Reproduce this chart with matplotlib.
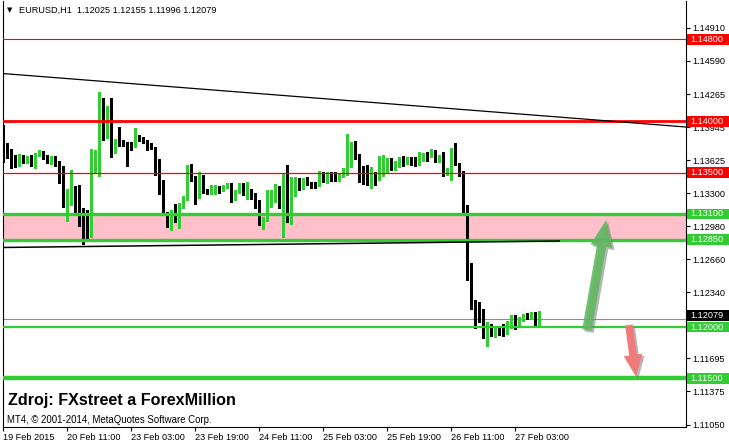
import matplotlib
matplotlib.use("Agg")
import matplotlib.pyplot as plt
from matplotlib.patches import Rectangle
import matplotlib.transforms as mtransforms
import matplotlib.patheffects as pe
import numpy as np

plt.rcParams['font.family'] = ['Liberation Sans', 'DejaVu Sans']

# ---------------- data ----------------
symbol = "EURUSD,H1"
header_ohlc = [1.12025, 1.12155, 1.11996, 1.12079]

opens = [1.1395, 1.1374, 1.1366, 1.1364, 1.1358, 1.1363, 1.1361, 1.1365, 1.1361, 1.1367,
         1.1370, 1.1365, 1.1361, 1.1363, 1.1360, 1.1355, 1.1329, 1.1328, 1.1335, 1.1323,
         1.1315, 1.1313, 1.1292, 1.1368, 1.1369, 1.1392, 1.1386, 1.1396, 1.1375, 1.1394,
         1.1379, 1.1379, 1.1379, 1.1376, 1.1386, 1.1384, 1.1381, 1.1378, 1.1374, 1.1357,
         1.1342, 1.1311, 1.1298, 1.1311, 1.1303, 1.1319, 1.1325, 1.1353, 1.1344, 1.1331,
         1.1347, 1.1332, 1.1331, 1.1332, 1.1336, 1.1333, 1.1336, 1.1339, 1.1325, 1.1332,
         1.1339, 1.1328, 1.1333, 1.1328, 1.1318, 1.1303, 1.1304, 1.1319, 1.1330, 1.1332,
         1.1311, 1.1337, 1.1304, 1.1335, 1.1337, 1.1336, 1.1342, 1.1340, 1.1340, 1.1338,
         1.1349, 1.1344, 1.1350, 1.1350, 1.1346, 1.1347, 1.1353, 1.1373, 1.1378, 1.1367,
         1.1348, 1.1342, 1.1340, 1.1349, 1.1348, 1.1356, 1.1361, 1.1362, 1.1355, 1.1357,
         1.1364, 1.1360, 1.1363, 1.1364, 1.1359, 1.1364, 1.1368, 1.1366, 1.1371, 1.1362,
         1.1366, 1.1350, 1.1352, 1.1372, 1.1359, 1.1349, 1.1318, 1.1258, 1.1225, 1.1212,
         1.1209, 1.1193, 1.1199, 1.1194, 1.1198, 1.1197, 1.1194, 1.1200, 1.1211, 1.1203,
         1.1207, 1.1213, 1.1209, 1.1214, 1.12025]
highs = [1.1397, 1.1379, 1.1373, 1.1367, 1.1368, 1.1367, 1.1366, 1.1367, 1.1369, 1.1372,
         1.1371, 1.1367, 1.1366, 1.1366, 1.1362, 1.1357, 1.1334, 1.1353, 1.1337, 1.1338,
         1.1316, 1.1314, 1.1373, 1.1372, 1.1429, 1.1423, 1.1415, 1.1423, 1.1383, 1.1395,
         1.1382, 1.1380, 1.1380, 1.1394, 1.1387, 1.1385, 1.1382, 1.1379, 1.1375, 1.1363,
         1.1343, 1.1312, 1.1314, 1.1320, 1.1321, 1.1327, 1.1358, 1.1359, 1.1347, 1.1351,
         1.1348, 1.1334, 1.1338, 1.1338, 1.1337, 1.1338, 1.1340, 1.1340, 1.1333, 1.1340,
         1.1340, 1.1341, 1.1334, 1.1330, 1.1324, 1.1307, 1.1333, 1.1333, 1.1339, 1.1337,
         1.1350, 1.1358, 1.1346, 1.1346, 1.1345, 1.1345, 1.1346, 1.1341, 1.1341, 1.1352,
         1.1351, 1.1351, 1.13505, 1.1351, 1.1350, 1.1355, 1.1388, 1.1380, 1.1381, 1.1368,
         1.1357, 1.1358, 1.1356, 1.1351, 1.1366, 1.1367, 1.1364, 1.1364, 1.1362, 1.1365,
         1.1366, 1.1365, 1.1365, 1.1365, 1.1370, 1.1369, 1.1370, 1.1373, 1.1372, 1.1367,
         1.1370, 1.1355, 1.1374, 1.1379, 1.1360, 1.1352, 1.1319, 1.1262, 1.1226, 1.1224,
         1.1218, 1.1205, 1.1203, 1.1200, 1.1199, 1.1203, 1.1206, 1.1212, 1.1212, 1.1210,
         1.1213, 1.1214, 1.1215, 1.1215, 1.12155]
lows = [1.1361, 1.1364, 1.1355, 1.1356, 1.1357, 1.1360, 1.1360, 1.1357, 1.1355, 1.1366,
        1.1363, 1.1360, 1.1359, 1.1357, 1.1340, 1.1317, 1.1303, 1.1319, 1.1311, 1.1298,
        1.1281, 1.1287, 1.1288, 1.1350, 1.1347, 1.1382, 1.1384, 1.1365, 1.1369, 1.1376,
        1.1376, 1.1357, 1.1372, 1.1375, 1.1381, 1.13795, 1.1372, 1.1373, 1.1348, 1.1329,
        1.1309, 1.1297, 1.1294, 1.1302, 1.1296, 1.1316, 1.1324, 1.1342, 1.1320, 1.1326,
        1.1330, 1.1329, 1.1329, 1.1329, 1.1330, 1.1332, 1.1335, 1.1322, 1.1324, 1.1330,
        1.1328, 1.1325, 1.1325, 1.1316, 1.1299, 1.1295, 1.1303, 1.1317, 1.1322, 1.1316,
        1.1288, 1.1302, 1.1300, 1.1327, 1.1333, 1.1334, 1.1338, 1.1335, 1.1335, 1.1337,
        1.1341, 1.1340, 1.1342, 1.1342, 1.1342, 1.1346, 1.1348, 1.1356, 1.1363, 1.1341,
        1.1339, 1.1338, 1.1335, 1.1338, 1.1343, 1.1347, 1.1351, 1.1353, 1.1353, 1.1356,
        1.1357, 1.1359, 1.1358, 1.1357, 1.1358, 1.1362, 1.1362, 1.1365, 1.1361, 1.1361,
        1.1347, 1.1348, 1.1343, 1.1358, 1.1347, 1.1311, 1.1246, 1.1218, 1.1199, 1.1205,
        1.1189, 1.1182, 1.1191, 1.1190, 1.1192, 1.1191, 1.1193, 1.1199, 1.1198, 1.1201,
        1.1206, 1.1208, 1.1208, 1.1200, 1.11996]
closes = [1.1364, 1.1365, 1.1361, 1.1359, 1.1366, 1.1362, 1.1365, 1.1362, 1.1367, 1.1371,
          1.1365, 1.1361, 1.1365, 1.1359, 1.1354, 1.1329, 1.1330, 1.1335, 1.1321, 1.1314,
          1.1313, 1.1292, 1.1369, 1.1370, 1.1392, 1.1387, 1.1396, 1.1375, 1.1379, 1.1378,
          1.1377, 1.1376, 1.1376, 1.1385, 1.1383, 1.1380, 1.1376, 1.1374, 1.1356, 1.1341,
          1.1311, 1.1298, 1.1310, 1.1303, 1.1320, 1.1325, 1.1354, 1.1343, 1.1330, 1.1347,
          1.1332, 1.1331, 1.1334, 1.1336, 1.1333, 1.1337, 1.1339, 1.1325, 1.1332, 1.1338,
          1.1329, 1.1333, 1.1328, 1.1317, 1.1303, 1.1305, 1.1320, 1.1331, 1.1332, 1.1319,
          1.1337, 1.1305, 1.1335, 1.1337, 1.1335, 1.1342, 1.1339, 1.1339, 1.1339, 1.1349,
          1.1344, 1.1350, 1.1349, 1.1346, 1.1349, 1.1353, 1.1373, 1.1379, 1.1366, 1.1348,
          1.1341, 1.1341, 1.1348, 1.1348, 1.1357, 1.1362, 1.1363, 1.1355, 1.1359, 1.1364,
          1.1359, 1.1364, 1.1362, 1.1359, 1.1365, 1.1367, 1.1367, 1.1371, 1.1362, 1.1366,
          1.1350, 1.1353, 1.1372, 1.1359, 1.1348, 1.1318, 1.1258, 1.1225, 1.1212, 1.1209,
          1.1193, 1.1199, 1.1194, 1.1198, 1.1196, 1.1195, 1.1201, 1.1211, 1.1204, 1.1209,
          1.1212, 1.1209, 1.1214, 1.1201, 1.12079]

x_tick_bars = [0, 16, 32, 48, 64, 80, 96, 112, 128]
x_tick_labels = ["19 Feb 2015", "20 Feb 11:00", "23 Feb 03:00", "23 Feb 19:00",
                 "24 Feb 11:00", "25 Feb 03:00", "25 Feb 19:00", "26 Feb 11:00",
                 "27 Feb 03:00"]
y_ticks = [1.14910, 1.14590, 1.14265, 1.13945, 1.13625, 1.13300, 1.12980,
           1.12660, 1.12340, 1.11695, 1.11375, 1.11050]

red_levels = [1.14800, 1.14000, 1.13500]
green_levels = [1.13100, 1.12850, 1.12000, 1.11500]
zone = (1.12850, 1.13100)
current_price = 1.12079

upper_trend = [(0, 1.14466), (150, 1.14009)]   # (bar, price), ray to the right
lower_trend = [(0, 1.12774), (139, 1.12837)]
up_arrow = [(145.9, 1.11971), (150.7, 1.13042)]
down_arrow = [(156.4, 1.12020), (158.2, 1.11514)]

source_text = "Zdroj: FXstreet a ForexMillion"
copyright_text = "MT4, \u00a9 2001-2014, MetaQuotes Software Corp."

# ---------------- style ----------------
GREEN = "#32CD32"
RED = "#FF0000"
W, H = 729, 445
FS = 6.6

fig = plt.figure(figsize=(W / 100, H / 100), dpi=100)
fig.patch.set_facecolor("white")
ax = fig.add_axes([2.5 / W, (H - 426.5) / H, (686 - 2.5) / W, (426.5 - 0.5) / H])
ax.set_xlim(-0.2, 170.675)
ax.set_ylim(1.11032, 1.15177)

o = np.array(opens); h = np.array(highs); l = np.array(lows); c = np.array(closes)
idx = np.arange(len(o))
up = c > o
cols = np.where(up, GREEN, "black")

# zone
ax.axhspan(zone[0], zone[1], color="#FFC0CB", zorder=0.5, lw=0)
# current price line
ax.axhline(current_price, color="#8090A0", lw=0.8, zorder=1)

# candles
ax.vlines(idx, l, h, colors=cols, linewidth=1.0, zorder=3, antialiased=False)
bottoms = np.minimum(o, c)
heights = np.maximum(np.abs(c - o), 0.00009)
ax.bar(idx, heights, bottom=bottoms, width=0.75, color=cols, linewidth=0,
       zorder=3, antialiased=False)

# horizontal levels
red_lw = [0.8, 2.0, 0.9]
for lev, lw in zip(red_levels, red_lw):
    ax.axhline(lev, color=RED, lw=lw, zorder=4)
green_lw = [2.4, 2.4, 1.6, 3.2]
for lev, lw in zip(green_levels, green_lw):
    ax.axhline(lev, color=GREEN, lw=lw, zorder=4)

# trendlines
x0, x1 = ax.get_xlim()
(b1, p1), (b2, p2) = upper_trend
s = (p2 - p1) / (b2 - b1)
ax.plot([x0, x1], [p1 + s * (x0 - b1), p1 + s * (x1 - b1)], color="black", lw=0.9, zorder=4)
(b1, p1), (b2, p2) = lower_trend
s = (p2 - p1) / (b2 - b1)
ax.plot([x0, b2], [p1 + s * (x0 - b1), p2], color="black", lw=1.1, zorder=4)

# arrows
shadow = [pe.SimplePatchShadow(offset=(1.5, -1.5), shadow_rgbFace="#7a7a7a", alpha=0.55), pe.Normal()]
ax.annotate("", xy=up_arrow[1], xytext=up_arrow[0],
            arrowprops=dict(arrowstyle="simple,head_width=2.0,head_length=2.4,tail_width=0.85",
                            mutation_scale=8, color="#62B862", alpha=0.9, lw=0,
                            shrinkA=0, shrinkB=0, path_effects=shadow), zorder=6)
ax.annotate("", xy=down_arrow[1], xytext=down_arrow[0],
            arrowprops=dict(arrowstyle="simple,head_width=1.7,head_length=2.0,tail_width=0.7",
                            mutation_scale=8, color="#F27878", alpha=0.95, lw=0,
                            shrinkA=0, shrinkB=0, path_effects=shadow), zorder=6)

# axes styling
for sp in ["left", "right", "bottom"]:
    ax.spines[sp].set_linewidth(0.8)
    ax.spines[sp].set_color("black")
ax.spines["top"].set_visible(False)
ax.yaxis.tick_right()
ax.set_yticks(y_ticks)
ax.set_yticklabels([f"{v:.5f}" for v in y_ticks])
ax.set_xticks(x_tick_bars)
ax.set_xticklabels(x_tick_labels)
for lbl in ax.get_xticklabels():
    lbl.set_ha("left")
ax.tick_params(axis="y", direction="out", length=3, width=0.8, pad=1.5, labelsize=FS)
ax.tick_params(axis="x", direction="out", length=3, width=0.8, pad=1.5, labelsize=FS)

# price labels on right axis
trans = mtransforms.blended_transform_factory(ax.transAxes, ax.transData)
box_w = 43 / (686 - 2.5)
box_x = (687 - 2.5) / (686 - 2.5)
box_h = 0.00105
labels = [(v, RED, 0) for v in red_levels] + [(current_price, "black", 3)] + \
         [(v, GREEN, 0) for v in green_levels]
for v, col, dy in labels:
    yc = v + dy * 0.0000973
    ax.add_patch(Rectangle((box_x, yc - box_h / 2), box_w, box_h, transform=trans,
                           facecolor=col, edgecolor="none", clip_on=False, zorder=10))
    ax.text(box_x + 3 / 683.5, yc, f"{v:.5f}", transform=trans, color="white",
            fontsize=FS, va="center", ha="left", clip_on=False, zorder=11)

# texts
fig.text(7 / W, 1 - 10 / H, "\u25bc", fontsize=5, va="center", ha="left",
         family=["DejaVu Sans"])
fig.text(19 / W, 1 - 10 / H, f"{symbol}  " + " ".join(f"{v:.5f}" for v in header_ohlc),
         fontsize=FS, va="center", ha="left", color="black")
fig.text(8 / W, 1 - 400 / H, source_text, fontsize=11.6, fontweight="bold",
         va="center", ha="left", color="black")
fig.text(7 / W, 1 - 420 / H, copyright_text, fontsize=6.9, va="center", ha="left",
         color="black")

fig.savefig("out.png", dpi=100, facecolor="white")
